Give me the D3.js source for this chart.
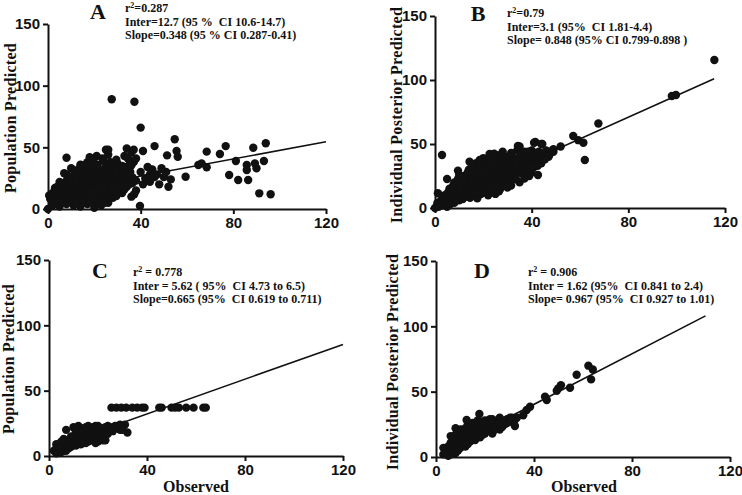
<!DOCTYPE html>
<html><head><meta charset="utf-8">
<script src="https://cdn.jsdelivr.net/npm/d3@7"></script>
<style>body{margin:0;background:#fff} svg{display:block}</style>
</head><body>
<svg id="c" width="742" height="495"></svg>
<script>
const xTicks=[0,40,80,120];
const yTicks=[0,50,100,150];
const letters=["A","B","C","D"];
const yTitles=["Population Predicted","Individual Posterior Predicted","Population Predicted","Individual Posterior Predicted"];
const xTitles=["","","Observed","Observed"];
const r2Labels=["=0.287","=0.79"," = 0.778"," = 0.906"];
const interLabels=["Inter=12.7 (95 %  CI 10.6-14.7)","Inter=3.1 (95%  CI 1.81-4.4)","Inter = 5.62 ( 95%  CI 4.73 to 6.5)","Inter = 1.62 (95%  CI 0.841 to 2.4)"];
const slopeLabels=["Slope=0.348 (95 % CI 0.287-0.41)","Slope= 0.848 (95% CI 0.799-0.898 )","Slope=0.665 (95%  CI 0.619 to 0.711)","Slope= 0.967 (95%  CI 0.927 to 1.01)"];
const intercepts=[12.7,3.1,5.62,1.62];
const slopes=[0.348,0.848,0.665,0.967];
const lineRanges=[[0,120],[0,115.5],[2,120],[3,110]];

const ptsA=[
[0,0],[0.5,11],
[2,3],[5,2],[8,4],[11,3],[14,2],[17,4],[20,1],[23,3],[26,5],
[1,8],[4,8],[7,7],[10,9],[13,8],[16,7],[19,9],[22,8],[25,8],[28,9],
[2,13],[5,14],[8,13],[11,12],[14,14],[17,13],[20,12],[23,14],[26,13],[29,14],[32,13],
[3,17],[4,18],[7,19],[10,18],[13,17],[16,19],[19,18],[22,17],[25,19],[28,18],[31,19],[34,18],
[5,22],[8,23],[11,24],[14,22],[17,23],[20,24],[23,22],[26,23],[29,24],[32,22],[35,24],[38,23],
[7,29],[8,28],[11,27],[14,29],[17,28],[20,27],[23,29],[26,28],[29,27],[32,29],[35,28],
[10,33],[13,32],[16,34],[19,33],[22,32],[25,34],[28,33],[31,32],[34,34],
[14,36],[17,38],[20,37],[24,39],[27,38],[30,37],[35,40],[37,38],
[18,42],[21,43],[26,44],[33,43],[36,46],[38,41],
[25,48],[26,48],[34,49],[37,48],[41,47],[46,51],
[3.5,5.5],[6.5,5],[9.5,6],[12.5,5.5],[15.5,5],[18.5,6],[21.5,5.5],[24.5,5],
[2.5,10.5],[5.5,11],[8.5,10],[11.5,10.5],[14.5,11],[17.5,10],[20.5,10.5],[23.5,11],[26.5,10],[29.5,10.5],
[3.5,15.5],[6.5,16],[9.5,15],[12.5,15.5],[15.5,16],[18.5,15],[21.5,15.5],[24.5,16],[27.5,15],[30.5,15.5],[33,16],
[6,20.5],[9.5,21],[12.5,20],[15.5,20.5],[18.5,21],[21.5,20],[24.5,20.5],[27.5,21],[30.5,20],[33.5,20.5],[36.5,21],
[9.5,25.5],[12.5,26],[15.5,25],[18.5,25.5],[21.5,26],[24.5,25],[27.5,25.5],[30.5,26],[33.5,25],[36.5,25.5],
[11.5,30.5],[14.5,31],[17.5,30],[20.5,30.5],[23.5,31],[26.5,30],[29.5,30.5],[32.5,31],[35.5,30],
[15.5,35.5],[18.5,35],[21.5,36],[25.5,35.5],[28.5,36],[32,35],[36,35.5],
[19.5,40.5],[23.5,41],[29.5,40],[34.5,41],
[8,41.6],[27.5,89],[37.3,87],[40,66],
[40,30],[42,25],[44,22],[45,32],[47,28],[48,20],[50,26],[51,30],[52,18],[53,24],[41,20],[43,34],[46,26],[49,33],[38,15],[36,10],[35,20],[44,28],[39.7,2.4],[37.2,12],
[51.4,43.5],[54.7,56.5],[55.5,47],[56,42.4],[59.4,26.2],
[64.9,35.7],[66.3,37],[68.5,33.8],[68.5,46.5],[74.2,44.6],[76.7,51],[78.2,27.6],[81.1,38.9],[82.1,23.5],[85.8,35.7],[85.8,31.6],[88.6,49.7],[89.3,37],[90,33],[91.2,12.7],[93.2,38.9],[94,53.3],[96.1,11.9],[86.4,23.5]
];
const ptsB=[
[0,0],[1.5,1],[3,2],[5,1],[1,4],
[2,5],[4,6],[6,5],[8,4],[10,6],
[4,10],[7,11],[10,10],[13,9],[16,10],[19,11],[22,10],[25,11],
[6,15],[9,16],[12,14],[15,15],[18,15],[21,16],[24,14],[27,15],[30,16],
[8,20],[11,21],[14,19],[17,20],[20,21],[23,19],[26,20],[29,21],[32,22],[35,20],
[12,25],[15,26],[18,24],[21,25],[24,26],[27,24],[30,25],[33,26],[36,27],[39,25],
[14,30],[17,31],[20,29],[23,30],[26,31],[29,29],[32,30],[35,31],[38,30],[41,32],
[17,35],[20,34],[23,36],[26,35],[29,34],[32,36],[35,35],[38,34],[41,36],[44,35],
[20,39],[23,40],[26,41],[30,40],[33,39],[36,41],[39,40],[42,39],[45,41],[47,40],
[28,44],[34,45],[37,44],[40,45],[43,44],[46,45],[49,44],
[1,2.5],[3.5,3],[6,2.5],
[3,7.5],[5.5,8],[8.5,7.5],[11.5,7],[14.5,8],[17.5,7.5],
[5.5,12.5],[8.5,13],[11.5,12],[14.5,12.5],[17.5,13],[20.5,12],[23.5,12.5],[26.5,13],
[7.5,17.5],[10.5,18],[13.5,17],[16.5,17.5],[19.5,18],[22.5,17],[25.5,17.5],[28.5,18],[31.5,17.5],
[9.5,22.5],[12.5,23],[15.5,22],[18.5,22.5],[21.5,23],[24.5,22],[27.5,22.5],[30.5,23],[33.5,22.5],[37,23],
[13.5,27.5],[16.5,28],[19.5,27],[22.5,27.5],[25.5,28],[28.5,27],[31.5,27.5],[34.5,28],[37.5,27.5],[40,28],
[15.5,32.5],[18.5,33],[21.5,32],[24.5,32.5],[27.5,33],[30.5,32],[33.5,32.5],[36.5,33],[39.5,32.5],[42.5,33],
[18.5,37.5],[21.5,38],[24.5,37],[27.5,37.5],[30.5,38],[33.5,37],[36.5,37.5],[39.5,38],[42.5,37.5],[45.5,38],
[24.5,42.5],[27.5,42],[31.5,43],[35.5,42.5],[38.5,42],[41.5,43],[44.5,42.5],[47.5,42],
[35,48],[41,51],[44,50],[49,46],[52,48],[48.8,45.3],
[2.9,41.4],[5,22.7],[1.2,11.5],[9.5,29.2],[10,26],[14.3,36.2],[22.6,42.2],[29.1,38.8],[34.3,48.4],[38.5,44],[42.6,25.8],[41.5,51.6],[44.4,50],
[57.2,56.2],[59.3,53],[61.4,51],[62,37.5],[67.6,66],[98,87.5],[99.7,88.3],[115.6,115.6]
];
const ptsC=[
[2,4],[3,6],[4,3],[5,5],[6,4],[4,8],[6,8],[8,6],[7,10],[9,9],
[3,2],[5,3],[7,4],[3,9],[5,7],[7,8],[9,7],[11,8],[13,9],
[5,11],[8,12],[10,11],[12,10],[14,12],[16,11],[18,12],[20,11],[22,12],[11,14],[15,15],
[6,13],[9,11],[13,12],[15,10],[17,12],[19,10],[21,13],[23,12],
[9,15],[12,17],[14,18],[17,16],[20,17],[23,18],[19,20],
[10,15],[13,15],[16,14],[18,16],[21,16],[24,17],[11,19],[15,19],[18,19],[22,19],
[7,20],[10,22],[12,23],[14,21],[16,23],[18,22],[20,23],[22,21],[24,23],[26,22],[28,21],[30,23],[31,24],[32,18],[26,19],[29,20],[13,20],[17,20],[21,20],[25,20],
[28,23],[11,21],[15,22],[19,23],[23,22],[27,23],[29,24],[30,20],
[25.5,37],[27.5,37],[29.5,37],[31.5,37],[34,37],[36,37],[38,37],[39,37],[45,37],[46,37],[50,37],[51.5,37],[53,37],[56,37],[59,37],[63,37],[64,37]
];
const ptsD=[
[3,2],[4,5],[5,1],[6,4],[3,7],[5,8],[7,6],[8,3],[6,11],[8,10],[10,7],[9,14],[11,11],[12,8],[7,15],[10,17],[12,15],[14,12],[13,19],[15,16],[16,13],[11,20],[14,22],[17,19],[18,15],[16,24],[19,22],[20,18],[21,25],[22,21],[23,18],[18,27],[24,27],[25,24],[26,21],[27,28],[28,25],[29,29],[30,27],[31,30],[26,30],[20,28],[9,19],[6,16],[8,22],[13,25],[22,29],[17,28],
[4,3],[6,2],[7,9],[9,5],[10,12],[11,9],[13,10],[12,18],[14,16],[15,14],[16,18],[17,16],[18,21],[19,17],[20,23],[21,20],[22,24],[23,23],[24,21],[25,27],[26,25],[27,23],[28,27],[29,26],[30,29],[15,26],[19,26],[23,29],[8,17],[10,21],[12,22],[32,28],[33,30],
[17.7,32.9],[12.5,28.3],[32.2,23.7],[30.2,30],[38.4,38.5],[37,36],[35.6,32],[44.5,46.2],[45.2,43.6],[51,55],[49.9,52.5],[49.3,50.7],[54.7,53],[57.4,63],[62.2,69.9],[64,67],[63.3,59.4]
];
const allPts=[ptsA,ptsB,ptsC,ptsD];

const layout=[
 {x0:48,x1:326,yb:209,yt:24,letter:[98,19],ann:[125,12],yTitle:[10,118],xTitle:null},
 {x0:435,x1:725,yb:208,yt:16,letter:[478,21],ann:[507,17],yTitle:[396,115],xTitle:null},
 {x0:49,x1:343,yb:456,yt:260,letter:[100,278],ann:[133,276],yTitle:[8,359],xTitle:[196,492]},
 {x0:436,x1:730,yb:457,yt:261,letter:[482,278],ann:[528,276],yTitle:[392,362],xTitle:[584,492]}
];

const svg=d3.select("#c");
const ink="#111";
layout.forEach((L,i)=>{
  const g=svg.append("g");
  const x=d3.scaleLinear().domain([0,120]).range([L.x0,L.x1]);
  const y=d3.scaleLinear().domain([0,150]).range([L.yb,L.yt]);
  g.append("g").selectAll("circle").data(allPts[i]).join("circle")
    .attr("cx",d=>x(d[0])).attr("cy",d=>y(d[1])).attr("r",4.2).attr("fill",ink);
  const line=d3.line().x(d=>x(d)).y(d=>y(intercepts[i]+slopes[i]*d));
  g.append("path").attr("d",line(lineRanges[i])).attr("stroke",ink).attr("stroke-width",1.6).attr("fill","none");
  const xa=g.append("g").attr("transform",`translate(0,${L.yb})`)
    .call(d3.axisBottom(x).tickValues(xTicks).tickSize(5).tickSizeOuter(0).tickPadding(3));
  const ya=g.append("g").attr("transform",`translate(${L.x0},0)`)
    .call(d3.axisLeft(y).tickValues(yTicks).tickSize(5).tickSizeOuter(0).tickPadding(3));
  [xa,ya].forEach(a=>{
    a.select(".domain").attr("stroke",ink).attr("stroke-width",2);
    a.selectAll(".tick line").attr("stroke",ink).attr("stroke-width",2);
    a.selectAll(".tick text").attr("fill",ink).style("font-family","'Liberation Sans',Arial,sans-serif")
      .style("font-weight","bold").style("font-size","15px");
  });
  g.append("text").attr("x",L.letter[0]).attr("y",L.letter[1]).attr("text-anchor","middle")
    .style("font-family","'Liberation Serif','Times New Roman',serif").style("font-weight","bold")
    .style("font-size","22px").attr("fill",ink).text(letters[i]);
  const ann=g.append("text").attr("x",L.ann[0]).attr("y",L.ann[1])
    .style("font-family","'Liberation Serif','Times New Roman',serif").style("font-weight","bold")
    .style("font-size","12px").style("white-space","pre").attr("fill",ink);
  ann.append("tspan").text("r");
  ann.append("tspan").attr("dy",-4).style("font-size","8px").text("2");
  ann.append("tspan").attr("dy",4).text(r2Labels[i]);
  g.append("text").attr("x",L.ann[0]).attr("y",L.ann[1]+13.5)
    .style("font-family","'Liberation Serif','Times New Roman',serif").style("font-weight","bold")
    .style("font-size","12px").style("white-space","pre").attr("fill",ink).text(interLabels[i]);
  g.append("text").attr("x",L.ann[0]).attr("y",L.ann[1]+27)
    .style("font-family","'Liberation Serif','Times New Roman',serif").style("font-weight","bold")
    .style("font-size","12px").style("white-space","pre").attr("fill",ink).text(slopeLabels[i]);
  g.append("text").attr("transform",`translate(${L.yTitle[0]},${L.yTitle[1]}) rotate(-90)`)
    .attr("text-anchor","middle").attr("dy","0.35em")
    .style("font-family","'Liberation Serif','Times New Roman',serif").style("font-weight","bold")
    .style("font-size","16px").style("letter-spacing","0.3px").attr("fill",ink).text(yTitles[i]);
  if(L.xTitle){
    g.append("text").attr("x",L.xTitle[0]).attr("y",L.xTitle[1]).attr("text-anchor","middle")
      .style("font-family","'Liberation Serif','Times New Roman',serif").style("font-weight","bold")
      .style("font-size","16px").attr("fill",ink).text(xTitles[i]);
  }
});
</script>
</body></html>
